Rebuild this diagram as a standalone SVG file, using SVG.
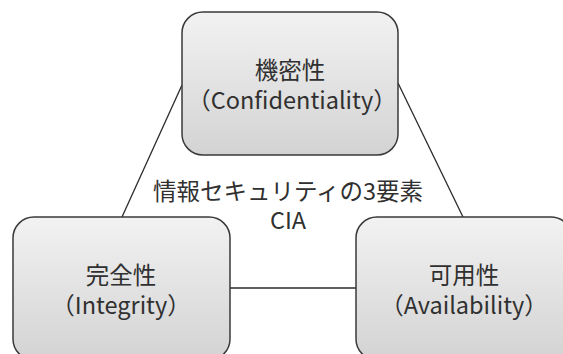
<svg xmlns="http://www.w3.org/2000/svg" width="563" height="354" viewBox="0 0 563 354">
<defs>
<linearGradient id="g" x1="0" y1="0" x2="0" y2="1">
<stop offset="0" stop-color="#f2f2f2"/>
<stop offset="1" stop-color="#d3d3d3"/>
</linearGradient>
<style>
.box{fill:url(#g);stroke:#3a3a3a;stroke-width:1.5}
.t{font-family:"Noto Sans CJK JP","Noto Sans",sans-serif;font-size:23.5px;fill:#303030;text-anchor:middle}
.c{stroke:#2a2a2a;stroke-width:1.3;fill:none}
</style>
</defs>
<rect width="563" height="354" fill="#ffffff"/>
<g id="connectors">
<line class="c" x1="182" y1="85" x2="122" y2="217"/>
<line class="c" x1="398" y1="83" x2="463" y2="217"/>
<line class="c" x1="230" y1="288" x2="356" y2="288"/>
</g>
<g id="center-label">
<text class="t" x="288" y="200">情報セキュリティの3要素</text>
<text class="t" x="288" y="229">CIA</text>
</g>
<g id="confidentiality">
<rect class="box" x="182" y="12" width="216" height="143" rx="21"/>
<text class="t" x="290" y="79">機密性</text>
<text class="t" x="292" y="109">（Confidentiality）</text>
</g>
<g id="integrity">
<rect class="box" x="13" y="217" width="217" height="143" rx="21"/>
<text class="t" x="121" y="284">完全性</text>
<text class="t" x="121" y="314">（Integrity）</text>
</g>
<g id="availability">
<rect class="box" x="356" y="217" width="216" height="143" rx="21"/>
<text class="t" x="464" y="284">可用性</text>
<text class="t" x="464" y="314">（Availability）</text>
</g>
</svg>
